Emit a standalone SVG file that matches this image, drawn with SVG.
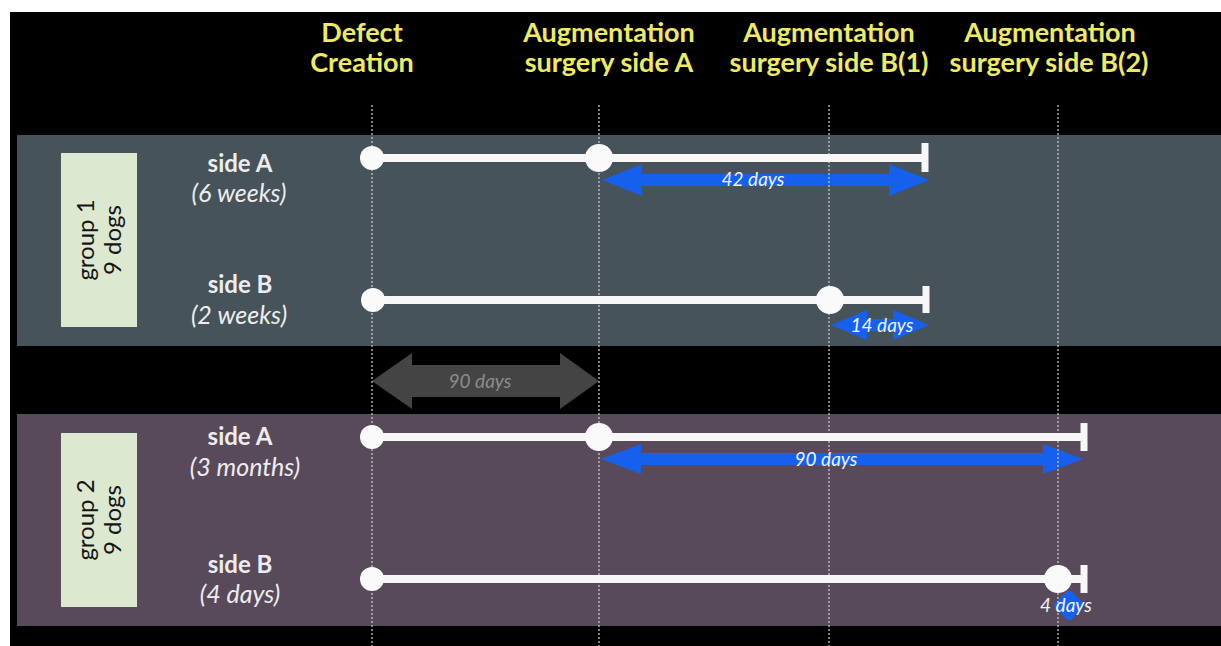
<svg xmlns="http://www.w3.org/2000/svg" width="1221" height="646" viewBox="0 0 1221 646">
  <defs>
    <style>
      .head { font-family: Lato, "Open Sans", sans-serif; font-weight: 700; font-size: 27px; fill: #eeeb62; text-anchor: middle; }
      .side { font-family: Lato, "Open Sans", sans-serif; font-weight: 700; font-size: 24px; fill: #ededed; text-anchor: middle; }
      .dur { font-family: Lato, "Open Sans", sans-serif; font-style: italic; font-weight: 400; font-size: 25px; fill: #ededed; text-anchor: middle; }
      .grp { font-family: Lato, "Open Sans", sans-serif; font-weight: 400; font-size: 24px; fill: #151515; text-anchor: middle; }
      .days { font-family: Lato, "Open Sans", sans-serif; font-style: italic; font-weight: 400; font-size: 19px; fill: #f4f4f4; text-anchor: middle; }
      .guide { stroke: #c9c9c9; stroke-width: 1.5; stroke-dasharray: 2 2; opacity: 0.85; }
      .track { stroke: #f7f7f7; stroke-width: 8; }
      .bar { stroke: #f7f7f7; stroke-width: 7; }
      .dot { fill: #fafafa; }
      .span { fill: #1660ee; }
      .label-box { fill: #dde8d1; }
    </style>
  </defs>

  <!-- page -->
  <rect x="0" y="0" width="1221" height="646" fill="#ffffff"/>
  <rect x="10" y="12" width="1211" height="634" fill="#000000"/>

  <!-- group bands -->
  <g id="band-group1">
    <rect x="17" y="135" width="1204" height="211" fill="#46535a"/>
  </g>
  <g id="band-group2">
    <rect x="17" y="414" width="1204" height="212" fill="#594a5b"/>
  </g>

  <!-- column headers -->
  <g id="head-defect">
    <text class="head" x="362" y="42">Defect</text>
    <text class="head" x="362" y="72">Creation</text>
  </g>
  <g id="head-aug-a">
    <text class="head" x="609" y="42">Augmentation</text>
    <text class="head" x="609" y="72">surgery side A</text>
  </g>
  <g id="head-aug-b1">
    <text class="head" x="829" y="42">Augmentation</text>
    <text class="head" x="829" y="72">surgery side B(1)</text>
  </g>
  <g id="head-aug-b2">
    <text class="head" x="1050" y="42">Augmentation</text>
    <text class="head" x="1049" y="72">surgery side B(2)</text>
  </g>

  <!-- group labels -->
  <g id="group1">
    <rect class="label-box" x="61" y="153" width="76" height="174"/>
    <text class="grp" transform="translate(94 240) rotate(-90)">group 1</text>
    <text class="grp" transform="translate(121 240) rotate(-90)">9 dogs</text>
  </g>
  <g id="group2">
    <rect class="label-box" x="61" y="433" width="76" height="174"/>
    <text class="grp" transform="translate(94 520) rotate(-90)">group 2</text>
    <text class="grp" transform="translate(121 520) rotate(-90)">9 dogs</text>
  </g>

  <!-- row labels -->
  <g id="row-g1-a">
    <text class="side" x="240" y="172">side A</text>
    <text class="dur" x="239" y="202">(6 weeks)</text>
  </g>
  <g id="row-g1-b">
    <text class="side" x="240" y="293">side B</text>
    <text class="dur" x="239" y="324">(2 weeks)</text>
  </g>
  <g id="row-g2-a">
    <text class="side" x="240" y="445">side A</text>
    <text class="dur" x="245" y="476">(3 months)</text>
  </g>
  <g id="row-g2-b">
    <text class="side" x="240" y="573">side B</text>
    <text class="dur" x="240" y="603">(4 days)</text>
  </g>

  <!-- interval arrows -->
  <g id="intervals">
    <polygon class="span" points="602,180 642,164 642,174 889,174 889,164 929,180 889,196 889,186 642,186 642,196"/>
    <polygon class="span" points="831,325 867,310 867,319 893,319 893,310 929,325 893,340 893,331 867,331 867,340"/>
    <polygon fill="#444444" points="372,381 412,353 412,365 560,365 560,353 599,381 560,409 560,397 412,397 412,409"/>
    <polygon class="span" points="601,459 641,444 641,453 1043,453 1043,444 1083,459 1043,474 1043,465 641,465 641,474"/>
    <polygon class="span" points="1053,605 1067,591 1071,591 1085,605 1071,620 1067,620"/>
  </g>

  <!-- time guides -->
  <g id="guides">
    <line class="guide" x1="372" y1="105" x2="372" y2="646"/>
    <line class="guide" x1="599" y1="105" x2="599" y2="646"/>
    <line class="guide" x1="829" y1="105" x2="829" y2="646"/>
    <line class="guide" x1="1058" y1="105" x2="1058" y2="646"/>
  </g>

  <!-- timelines -->
  <g id="connectors">
    <line class="track" x1="372" y1="158" x2="925" y2="158"/>
    <line class="bar" x1="925" y1="143" x2="925" y2="172"/>
    <line class="track" x1="373" y1="300" x2="926" y2="300"/>
    <line class="bar" x1="926" y1="286" x2="926" y2="313"/>
    <line class="track" x1="372" y1="437" x2="1084" y2="437"/>
    <line class="bar" x1="1084" y1="423" x2="1084" y2="451"/>
    <line class="track" x1="372" y1="579" x2="1084" y2="579"/>
    <line class="bar" x1="1084" y1="565" x2="1084" y2="593"/>
  </g>

  <!-- events -->
  <g id="events">
    <circle class="dot" cx="372" cy="158" r="12"/>
    <circle class="dot" cx="599" cy="158" r="14"/>
    <circle class="dot" cx="373" cy="300" r="12"/>
    <circle class="dot" cx="830" cy="300" r="14"/>
    <circle class="dot" cx="372" cy="437" r="12"/>
    <circle class="dot" cx="599" cy="437" r="14"/>
    <circle class="dot" cx="372" cy="579" r="12"/>
    <circle class="dot" cx="1058" cy="579" r="14"/>
  </g>

  <!-- interval labels -->
  <g id="interval-labels">
    <text class="days" x="753" y="186">42 days</text>
    <text class="days" x="882" y="332">14 days</text>
    <text class="days" x="480" y="388" style="fill:#8c8c8c">90 days</text>
    <text class="days" x="826" y="466">90 days</text>
    <text class="days" x="1066" y="612">4 days</text>
  </g>
</svg>
